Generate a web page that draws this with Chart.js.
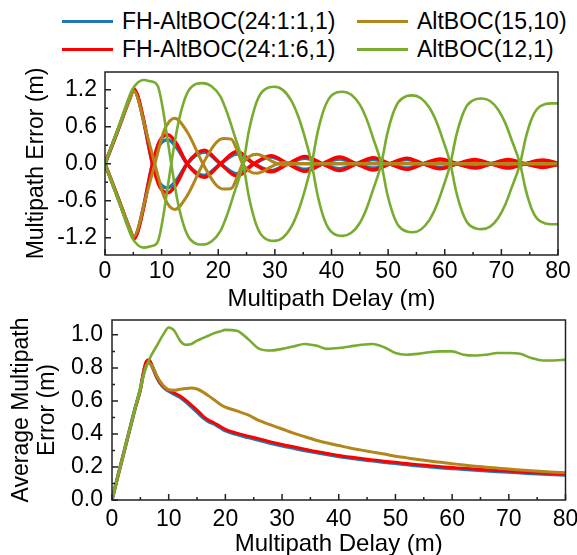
<!DOCTYPE html>
<html><head><meta charset="utf-8">
<script src="https://cdn.jsdelivr.net/npm/chart.js@4.4.1/dist/chart.umd.min.js"></script>
<style>
html,body{margin:0;padding:0;background:#fff;width:577px;height:555px;overflow:hidden;font-family:"Liberation Sans",Arial,sans-serif;}
.item{position:absolute;display:flex;align-items:center;font-size:23px;color:#000;white-space:nowrap;height:28px;}
.item .sw{width:51px;height:3px;margin-right:9px;}
#c1{position:absolute;left:0;top:60px;}
#c2{position:absolute;left:0;top:310px;}
</style></head><body>
<div id="legend"></div>
<canvas id="c1" width="577" height="250"></canvas>
<canvas id="c2" width="577" height="245"></canvas>
<script>
// ---------- series names / colours ----------
const seriesNames = ['FH-AltBOC(24:1:1,1)', 'FH-AltBOC(24:1:6,1)', 'AltBOC(15,10)', 'AltBOC(12,1)'];
const seriesColors = ['#1f77b4', '#ff0000', '#b3861b', '#77ac30'];

// ---------- top plot: multipath error envelopes ----------
const fhDelay = [0, 2.5, 4.3, 5.1, 5.8, 6.8, 8.4, 9.6, 11.1, 12.6, 14.5, 17.5, 20.4, 23.3, 26.3, 29.3, 32.3, 35.3, 38.4, 41.4, 44.4, 47.4, 50.3, 53.3, 56.2, 59.2, 62.2, 65.3, 68.2, 71.2, 74.2, 77.3, 80];
const fh11Upper = [0, 0.6, 1.04, 1.2, 1.08, 0.7, 0, -0.3, -0.39, -0.27, 0, 0.19, 0, -0.16, 0, 0.11, 0, -0.09, 0, 0.08, 0, -0.07, 0, 0.07, 0, -0.06, 0, 0.05, 0, -0.05, 0, 0.045, 0.01];
const fh11Lower = [0, -0.6, -1.04, -1.2, -1.08, -0.7, 0, 0.3, 0.39, 0.27, 0, -0.19, 0, 0.16, 0, -0.11, 0, 0.09, 0, -0.08, 0, 0.07, 0, -0.07, 0, 0.06, 0, -0.05, 0, 0.05, 0, -0.045, -0.01];
const fh16Upper = [0, 0.6, 1.05, 1.22, 1.1, 0.72, 0, -0.36, -0.47, -0.33, 0, 0.22, 0, -0.2, 0, 0.13, 0, -0.12, 0, 0.11, 0, -0.1, 0, 0.09, 0, -0.08, 0, 0.07, 0, -0.07, 0, 0.06, 0.01];
const fh16Lower = [0, -0.6, -1.05, -1.22, -1.1, -0.72, 0, 0.36, 0.47, 0.33, 0, -0.22, 0, 0.2, 0, -0.13, 0, 0.12, 0, -0.11, 0, 0.1, 0, -0.09, 0, 0.08, 0, -0.07, 0, 0.07, 0, -0.06, -0.01];

const alt1510Delay = [0, 2.5, 4.3, 5.1, 5.8, 7.0, 8.8, 10.5, 12.3, 14.5, 17.3, 19.5, 21.0, 22.3, 23.2, 24.3, 25.5, 26.8, 28.0, 29.3, 30.5, 31.8, 33.5, 40, 50, 60, 70, 80];
const alt1510Upper = [0, 0.6, 1.03, 1.18, 1.06, 0.62, 0, -0.55, -0.74, -0.52, 0, 0.33, 0.41, 0.40, 0.25, 0, -0.12, -0.155, -0.12, -0.05, 0, 0.02, 0.005, 0.005, 0.005, 0.005, 0.005, 0.005];
const alt1510Lower = [0, -0.6, -1.03, -1.18, -1.06, -0.62, 0, 0.55, 0.74, 0.52, 0, -0.33, -0.41, -0.40, -0.25, 0, 0.12, 0.155, 0.12, 0.05, 0, -0.02, -0.005, -0.005, -0.005, -0.005, -0.005, -0.005];

const alt121Delay = [0, 2.5, 4.8, 5.8, 6.8, 8.0, 9.3, 10.2, 11.0, 11.7,
  12.7, 13.7, 14.7, 16.2, 17.2, 18.8, 20.4, 21.6, 22.8, 24.4,
  25.4, 26.4, 27.4, 28.9, 29.9, 31.4, 32.9, 34.1, 35.2, 36.5,
  37.5, 38.5, 39.5, 41.0, 42.0, 43.5, 45.0, 46.2, 47.3, 48.8,
  49.8, 50.8, 51.8, 53.3, 54.3, 55.8, 57.3, 58.5, 59.6, 61.0,
  62.0, 63.0, 64.0, 65.5, 66.5, 68.0, 69.5, 70.7, 71.8, 73.3,
  74.3, 75.3, 76.3, 77.8, 78.8, 80];
const alt121Upper = [0, 0.63, 1.2, 1.32, 1.36, 1.34, 1.27, 0.9, 0.42, 0,
  -0.55, -0.94, -1.18, -1.3, -1.31, -1.26, -1.09, -0.82, -0.48, 0,
  0.53, 0.9, 1.125, 1.24, 1.25, 1.2, 1.025, 0.775, 0.46, 0,
  -0.49, -0.84, -1.05, -1.16, -1.17, -1.12, -0.96, -0.725, -0.43, 0,
  0.47, 0.8, 1.0, 1.1, 1.11, 1.065, 0.91, 0.69, 0.41, 0,
  -0.445, -0.76, -0.955, -1.05, -1.06, -1.02, -0.87, -0.66, -0.39, 0,
  0.42, 0.72, 0.89, 0.97, 0.98, 0.98];
const alt121Lower = [0, -0.63, -1.2, -1.32, -1.36, -1.34, -1.27, -0.9, -0.42, 0,
  0.55, 0.94, 1.18, 1.3, 1.31, 1.26, 1.09, 0.82, 0.48, 0,
  -0.53, -0.9, -1.125, -1.24, -1.25, -1.2, -1.025, -0.775, -0.46, 0,
  0.49, 0.84, 1.05, 1.16, 1.17, 1.12, 0.96, 0.725, 0.43, 0,
  -0.47, -0.8, -1.0, -1.1, -1.11, -1.065, -0.91, -0.69, -0.41, 0,
  0.445, 0.76, 0.955, 1.05, 1.06, 1.02, 0.87, 0.66, 0.39, 0,
  -0.42, -0.72, -0.89, -0.97, -0.98, -0.98];

// ---------- bottom plot: average multipath error ----------
const avgDelay = [0, 1, 2, 3, 4, 5, 5.5, 6, 6.5, 7, 8, 9, 10, 11, 12, 13, 14, 15, 16, 17, 18, 19, 20, 22, 24, 26, 28, 30, 32, 34, 36, 38, 40, 42, 44, 46, 48, 50, 52, 54, 56, 58, 60, 62, 64, 66, 68, 70, 72, 74, 76, 78, 80];
const avgFh11 = [0, 0.14, 0.275, 0.41, 0.545, 0.67, 0.76, 0.83, 0.845, 0.815, 0.735, 0.685, 0.66, 0.64, 0.622, 0.596, 0.565, 0.533, 0.5, 0.476, 0.46, 0.44, 0.42, 0.397, 0.379, 0.362, 0.344, 0.328, 0.314, 0.3, 0.287, 0.275, 0.264, 0.254, 0.245, 0.237, 0.229, 0.222, 0.215, 0.208, 0.202, 0.196, 0.191, 0.186, 0.181, 0.177, 0.173, 0.169, 0.165, 0.161, 0.158, 0.155, 0.152];
const avgFh16 = [0, 0.14, 0.275, 0.41, 0.545, 0.67, 0.765, 0.835, 0.85, 0.82, 0.74, 0.69, 0.665, 0.648, 0.63, 0.605, 0.575, 0.545, 0.51, 0.485, 0.468, 0.448, 0.428, 0.405, 0.387, 0.37, 0.352, 0.336, 0.322, 0.308, 0.294, 0.282, 0.27, 0.26, 0.251, 0.243, 0.235, 0.228, 0.221, 0.214, 0.208, 0.202, 0.197, 0.192, 0.187, 0.183, 0.179, 0.175, 0.171, 0.166, 0.163, 0.16, 0.157];
const avgAlt1510 = [0, 0.14, 0.275, 0.41, 0.545, 0.665, 0.75, 0.81, 0.83, 0.815, 0.745, 0.695, 0.668, 0.665, 0.67, 0.675, 0.678, 0.672, 0.655, 0.632, 0.607, 0.582, 0.562, 0.54, 0.515, 0.48, 0.455, 0.43, 0.405, 0.383, 0.362, 0.345, 0.33, 0.315, 0.302, 0.29, 0.278, 0.265, 0.255, 0.245, 0.236, 0.228, 0.22, 0.212, 0.205, 0.199, 0.193, 0.187, 0.182, 0.177, 0.172, 0.168, 0.165];
const avgAlt121 = [0, 0.14, 0.275, 0.41, 0.55, 0.68, 0.745, 0.8, 0.845, 0.88, 0.94, 1.0, 1.045, 1.025, 0.965, 0.94, 0.945, 0.965, 0.98, 0.995, 1.01, 1.02, 1.03, 1.025, 0.975, 0.915, 0.905, 0.915, 0.93, 0.945, 0.935, 0.915, 0.92, 0.93, 0.94, 0.945, 0.925, 0.89, 0.88, 0.885, 0.895, 0.9, 0.9, 0.88, 0.875, 0.88, 0.89, 0.89, 0.885, 0.86, 0.845, 0.845, 0.85];

// ---------- ticks ----------
const delayTicks = [0, 10, 20, 30, 40, 50, 60, 70, 80];
const delayMinorTicks = [5, 15, 25, 35, 45, 55, 65, 75];
const errTicks = [-1.2, -0.6, 0, 0.6, 1.2];
const errMinorTicks = [-0.9, -0.3, 0.3, 0.9];
const avgTicks = [0, 0.2, 0.4, 0.6, 0.8, 1.0];
const avgMinorTicks = [0.1, 0.3, 0.5, 0.7, 0.9];

// ---------- legend (HTML text) ----------
const legendSlots = [[0, 62, 21], [2, 357, 21], [1, 62, 49], [3, 357, 49]];
const legendEl = document.getElementById('legend');
legendSlots.forEach(([i, left, cy]) => {
  const d = document.createElement('div');
  d.className = 'item';
  d.style.left = left + 'px';
  d.style.top = (cy - 14) + 'px';
  d.innerHTML = '<span class="sw" style="background:' + seriesColors[i] + '"></span><span>' + seriesNames[i] + '</span>';
  legendEl.appendChild(d);
});

Chart.defaults.font.family = '"Liberation Sans", Arial, sans-serif';
Chart.defaults.color = '#000';

function pts(xs, ys) { return xs.map((x, i) => ({x: x, y: ys[i]})); }

function frameTicks(id, xMaj, xMin, yMaj, yMin) {
  return {
    id: id,
    afterDatasetsDraw(chart) {
      const ctx = chart.ctx, a = chart.chartArea, sx = chart.scales.x, sy = chart.scales.y;
      ctx.save();
      ctx.strokeStyle = '#222';
      ctx.lineWidth = 1.5;
      ctx.beginPath();
      const xt = (vals, len) => vals.forEach(v => { const p = sx.getPixelForValue(v); ctx.moveTo(p, a.bottom); ctx.lineTo(p, a.bottom - len); });
      const yt = (vals, len) => vals.forEach(v => { const p = sy.getPixelForValue(v); ctx.moveTo(a.left, p); ctx.lineTo(a.left + len, p); });
      xt(xMaj, 6); xt(xMin, 3); yt(yMaj, 6); yt(yMin, 3);
      ctx.stroke();
      ctx.strokeRect(a.left, a.top, a.right - a.left, a.bottom - a.top);
      ctx.restore();
    }
  };
}

function ds(data, color, width, order) {
  return { data: data, borderColor: color, backgroundColor: color, borderWidth: width, pointRadius: 0,
           cubicInterpolationMode: 'monotone', fill: false, order: order };
}

function xScale(padTop) {
  return {
    type: 'linear', min: 0, max: 80,
    afterBuildTicks: s => { s.ticks = delayTicks.map(v => ({value: v})); },
    afterFit: s => { s.height = 55; s.paddingLeft = 0; s.paddingRight = 0; },
    grid: {display: false, drawTicks: false}, border: {display: false},
    ticks: {font: {size: 23}, padding: padTop, maxRotation: 0, autoSkip: false, color: '#000'},
    title: {display: true, text: 'Multipath Delay (m)', font: {size: 24, lineHeight: '22px'}, padding: {top: 0, bottom: 0}, color: '#000'}
  };
}

new Chart(document.getElementById('c1'), {
  type: 'line',
  data: { datasets: [
    ds(pts(fhDelay, fh11Upper), seriesColors[0], 3.5, 4),
    ds(pts(fhDelay, fh11Lower), seriesColors[0], 3.5, 4),
    ds(pts(fhDelay, fh16Upper), seriesColors[1], 3.5, 3),
    ds(pts(fhDelay, fh16Lower), seriesColors[1], 3.5, 3),
    ds(pts(alt1510Delay, alt1510Upper), seriesColors[2], 3, 2),
    ds(pts(alt1510Delay, alt1510Lower), seriesColors[2], 3, 2),
    ds(pts(alt121Delay, alt121Upper), seriesColors[3], 2.6, 1),
    ds(pts(alt121Delay, alt121Lower), seriesColors[3], 2.6, 1)
  ]},
  options: {
    responsive: false, animation: false, events: [],
    layout: {padding: {left: 0, right: 19, top: 12, bottom: 0}},
    plugins: {legend: {display: false}, tooltip: {enabled: false}},
    scales: {
      x: xScale(3),
      y: {
        type: 'linear', min: -1.48, max: 1.49,
        afterBuildTicks: s => { s.ticks = errTicks.map(v => ({value: v})); },
        afterFit: s => { s.width = 105; s.paddingTop = 0; s.paddingBottom = 0; },
        grid: {display: false, drawTicks: false}, border: {display: false},
        ticks: {font: {size: 23}, padding: 8, color: '#000', callback: v => Number(v).toFixed(1)},
        title: {display: true, text: 'Multipath Error (m)', font: {size: 23, lineHeight: 1.2}, padding: {top: 23, bottom: 0}, color: '#000'}
      }
    }
  },
  plugins: [frameTicks('ft1', delayTicks, delayMinorTicks, errTicks, errMinorTicks)]
});

new Chart(document.getElementById('c2'), {
  type: 'line',
  data: { datasets: [
    ds(pts(avgDelay, avgFh11), seriesColors[0], 3.5, 4),
    ds(pts(avgDelay, avgFh16), seriesColors[1], 3, 3),
    ds(pts(avgDelay, avgAlt1510), seriesColors[2], 3, 2),
    ds(pts(avgDelay, avgAlt121), seriesColors[3], 2.6, 1)
  ]},
  options: {
    responsive: false, animation: false, events: [],
    layout: {padding: {left: 0, right: 11.5, top: 10, bottom: 0}},
    plugins: {legend: {display: false}, tooltip: {enabled: false}},
    scales: {
      x: xScale(6),
      y: {
        type: 'linear', min: 0, max: 1.09,
        afterBuildTicks: s => { s.ticks = avgTicks.map(v => ({value: v})); },
        afterFit: s => { s.width = 112; s.paddingTop = 0; s.paddingBottom = 0; },
        grid: {display: false, drawTicks: false}, border: {display: false},
        ticks: {font: {size: 23}, padding: 9, color: '#000', callback: v => Number(v).toFixed(1)},
        title: {display: true, text: ['Average Multipath', 'Error (m)'], font: {size: 23, lineHeight: '26px'}, padding: {top: 9, bottom: 0}, color: '#000'}
      }
    }
  },
  plugins: [frameTicks('ft2', delayTicks, delayMinorTicks, avgTicks, avgMinorTicks)]
});
</script>
</body></html>
